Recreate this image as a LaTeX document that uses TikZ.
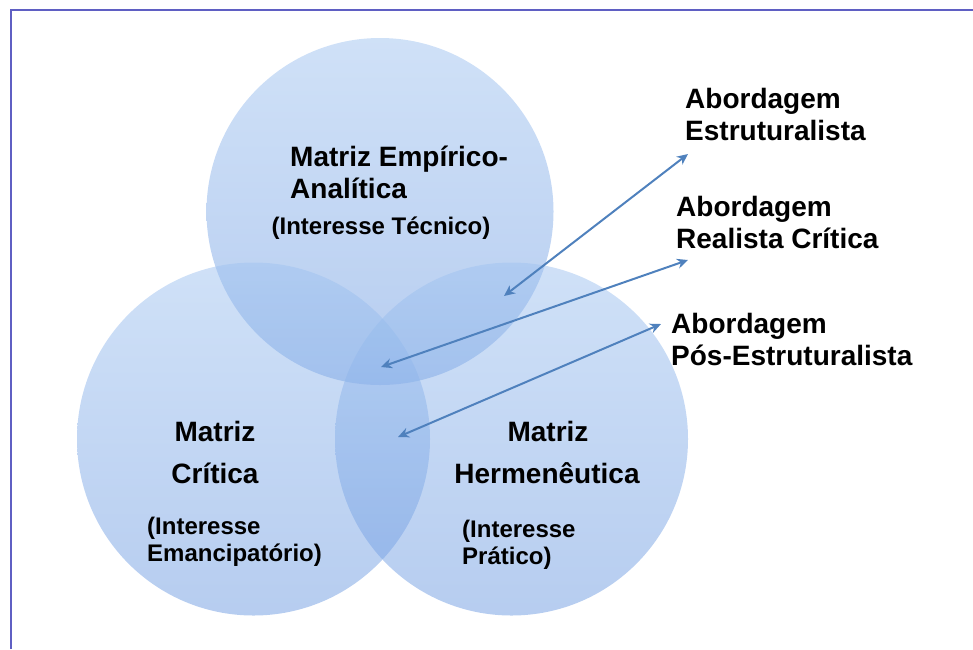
\documentclass[tikz,border=0pt]{standalone}
\usepackage{fontspec}
\setmainfont{Liberation Sans}
\usetikzlibrary{arrows.meta}

\definecolor{circtop}{RGB}{160,195,240}
\definecolor{circbot}{RGB}{110,155,225}
\definecolor{arrowblue}{RGB}{79,129,189}
\definecolor{framecol}{RGB}{95,95,195}

\tikzset{
	matriz/.style={circle, inner sep=0pt, draw=none, top color=circtop, bottom color=circbot, fill opacity=0.5},
	titulo/.style={font=\bfseries\fontsize{28}{32}\selectfont, inner sep=0pt, align=left},
	sub/.style={font=\bfseries\fontsize{24}{27}\selectfont, inner sep=0pt, align=left},
	seta/.style={{Stealth[length=11pt,width=10pt]}-{Stealth[length=11pt,width=10pt]}, arrowblue, line width=2pt}
}

\begin{document}
\begin{tikzpicture}[x=1pt, y=-1pt]
		\useasboundingbox (0,0) rectangle (973,649);
		%frame
		\draw[framecol, line width=2pt] (11,649) -- (11,10) -- (973,10);
		
		%circles
		\node[matriz, minimum size=347pt] (emp) at (380,211.5) {};
		\node[matriz, minimum size=353pt] (crit) at (253.5,439) {};
		\node[matriz, minimum size=353pt] (herm) at (511.5,439) {};
		
		%texts in circles
		\node[titulo, anchor=base west] (empt) at (290,198) {Matriz Empírico-\\Analítica};
		\node[sub, anchor=base] (emps) at (381,234) {(Interesse Técnico)};
		\node[titulo, anchor=base] (critt) at (215,441) {Matriz};
		\node[titulo, anchor=base] (critt2) at (215,483) {Crítica};
		\node[sub, anchor=base west] (crits) at (147,561) {(Interesse\\Emancipatório)};
		\node[titulo, anchor=base] (hermt) at (548,441) {Matriz};
		\node[titulo, anchor=base] (hermt2) at (547,483) {Hermenêutica};
		\node[sub, anchor=base west] (herms) at (462,564) {(Interesse\\Prático)};
		
		%approaches
		\node[titulo, anchor=base west] (estr) at (685,140) {Abordagem\\Estruturalista};
		\node[titulo, anchor=base west] (real) at (676,248) {Abordagem\\Realista Crítica};
		\node[titulo, anchor=base west] (pos) at (671,365) {Abordagem\\Pós-Estruturalista};
		
		%arrows
		\coordinate (estrend) at (688,154);
		\coordinate (realend) at (688,260);
		\coordinate (posend) at (661,324);
		\coordinate (estrin) at (504,296);
		\coordinate (realin) at (381,367);
		\coordinate (posin) at (398,437);
		\draw[seta] (estrin) -- (estrend);
		\draw[seta] (realin) -- (realend);
		\draw[seta] (posin) -- (posend);
\end{tikzpicture}
\end{document}
